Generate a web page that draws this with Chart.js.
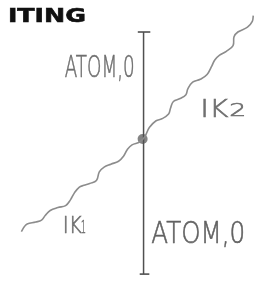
<!DOCTYPE html>
<html>
<head>
<meta charset="utf-8">
<script src="https://cdn.jsdelivr.net/npm/chart.js@4"></script>
<style>
  html, body { margin: 0; padding: 0; background: #fff; }
  #sketch { display: block; }
</style>
</head>
<body>
<canvas id="sketch" width="265" height="282"></canvas>
<script>
// sketch units: x grows to the right, y grows downwards
let waveX = [17, 20, 23, 32, 38, 42, 47, 55, 63, 68, 72, 77, 82, 88, 95, 98, 103, 110, 118, 123, 127, 132, 140, 145,
             150, 157, 163, 170, 172, 175, 182, 188, 190, 195, 203, 210, 215, 218, 223, 230, 237, 238, 242, 252, 257, 258];
let waveY = [235, 230, 227, 225, 223, 218, 213, 210, 208, 202, 195, 189, 187, 185, 182, 173, 168, 165, 162, 157, 150, 145, 142, 137,
             127, 120, 118, 113, 107, 100, 97, 93, 87, 80, 77, 72, 63, 57, 52, 48, 42, 33, 28, 23, 17, 11];

let axisX = [144, 144];
let axisY = [28, 279];
let topCapX = [138, 151];
let bottomCapX = [140, 150];

let vertex = { x: 143, y: 139 };

let labelTexts = ["ATOM,0", "IK", "2", "IK", "1", "ATOM,0", "ITING"];

let toPoints = (xs, ys) => xs.map((x, i) => ({ x: x, y: ys[i] }));

// text boxes: [left, baseline, width, font, colour]
let labelBoxes = [
    [62, 75, 70, '200 30px "DejaVu Sans"', '#6f6f6f'],
    [203, 116, 28, '200 24px "DejaVu Sans"', '#6f6f6f'],
    [233, 115, 17, '200 17px "DejaVu Sans"', '#6f6f6f'],
    [60, 236, 19, '200 23px "DejaVu Sans"', '#6f6f6f'],
    [79, 236, 5, '200 18px "DejaVu Sans"', '#6f6f6f'],
    [152, 247, 94, '200 30px "DejaVu Sans"', '#626262'],
    [3, 18, 78, 'bold 19px "DejaVu Sans"', '#111111']
];

let sketchText = {
    id: 'sketchText',
    afterDatasetsDraw(chart) {
        let c = chart.ctx;
        let sx = chart.scales.x, sy = chart.scales.y;
        labelTexts.forEach((t, i) => {
            let b = labelBoxes[i];
            c.save();
            c.font = b[3];
            c.fillStyle = b[4];
            c.strokeStyle = b[4];
            c.lineWidth = 0.6;
            c.textBaseline = 'alphabetic';
            let w = c.measureText(t).width;
            c.translate(sx.getPixelForValue(b[0]), sy.getPixelForValue(b[1]));
            c.scale(b[2] / w, 1);
            c.fillText(t, 0, 0);
            c.strokeText(t, 0, 0);
            c.restore();
        });
    }
};

let whiteBg = {
    id: 'whiteBg',
    beforeDraw(chart) {
        let c = chart.ctx;
        c.save();
        c.fillStyle = '#ffffff';
        c.fillRect(0, 0, chart.width, chart.height);
        c.restore();
    }
};

let lineSet = (data, color, width, tension) => ({
    data: data,
    showLine: true,
    borderColor: color,
    borderWidth: width,
    pointRadius: 0,
    tension: tension,
    clip: false
});

let grafico = new Chart(document.getElementById('sketch').getContext('2d'), {
    type: 'scatter',
    data: {
        datasets: [
            lineSet(toPoints(waveX, waveY), '#8c8c8c', 1.6, 0.4),
            lineSet(toPoints(axisX, axisY), '#505050', 1.5, 0),
            lineSet(toPoints(topCapX, [axisY[0], axisY[0]]), '#505050', 1.6, 0),
            lineSet(toPoints(bottomCapX, [axisY[1], axisY[1]]), '#505050', 1.6, 0),
            {
                data: [vertex],
                pointRadius: 5,
                pointBackgroundColor: 'rgba(110,110,110,0.85)',
                pointBorderWidth: 0,
                clip: false
            }
        ]
    },
    options: {
        responsive: false,
        animation: false,
        layout: { padding: 0 },
        plugins: { legend: { display: false }, tooltip: { enabled: false } },
        scales: {
            x: { type: 'linear', min: 0, max: 265, display: false },
            y: { type: 'linear', min: 0, max: 282, reverse: true, display: false }
        }
    },
    plugins: [whiteBg, sketchText]
});
</script>
</body>
</html>
